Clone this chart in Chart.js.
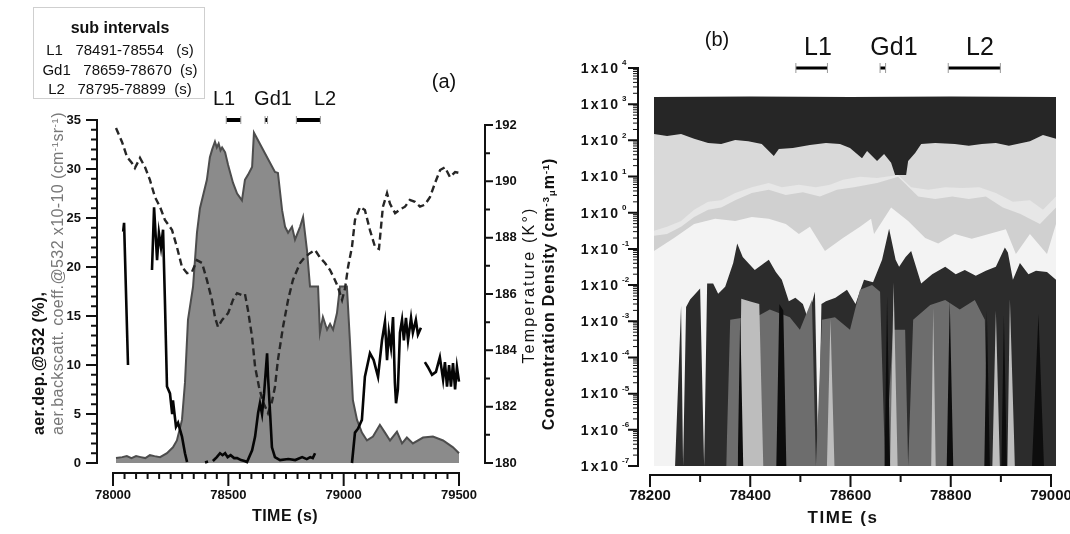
<!DOCTYPE html>
<html>
<head>
<meta charset="utf-8">
<title>Depolarization, backscatter and size distribution</title>
<script src="https://cdn.jsdelivr.net/npm/chart.js@4.4.1/dist/chart.umd.min.js"></script>
<style>
  html, body { margin: 0; padding: 0; background: #fff; }
  body { position: relative; width: 1070px; height: 534px; overflow: hidden;
         font-family: "Liberation Sans", Arial, sans-serif; color: #111; }
  canvas { position: absolute; top: 0; }
  #panelA { left: 0; }
  #panelB { left: 535px; }
  .t { position: absolute; white-space: pre; line-height: 1; }
  .c { transform: translate(-50%, -50%); }
  .vc { transform: translate(-50%, -50%) rotate(-90deg); }
  #subBox { position: absolute; left: 33px; top: 7px; width: 172px; height: 92px;
            box-sizing: border-box; border: 1px solid #cfcfcf; }
  #depTitle { position: absolute; left: 29px; top: 435px; transform-origin: 0 0; transform: rotate(-90deg);
              font-size: 16px; line-height: 19px; letter-spacing: 0.4px; white-space: nowrap; }
  sup { font-size: 0.62em; vertical-align: 0.55em; line-height: 0; }
  sub { font-size: 0.62em; vertical-align: -0.15em; line-height: 0; }
</style>
</head>
<body>
<canvas id="panelA" width="535" height="534"></canvas>
<canvas id="panelB" width="545" height="534"></canvas>

<div id="subBox"></div>
<div class="t c" style="left:120px;top:28px;font-size:16px;font-weight:bold">sub intervals</div>

<div class="t c" style="left:444px;top:81px;font-size:20px">(a)</div>
<div class="t c" style="left:224px;top:98px;font-size:20px">L1</div>
<div class="t c" style="left:273px;top:98px;font-size:20px">Gd1</div>
<div class="t c" style="left:325px;top:98px;font-size:20px">L2</div>

<div id="depTitle"><div style="font-weight:bold">aer.dep.@532 (%),</div><div style="color:#777">aer.backscatt. coeff.@532 x10-10 (cm<sup>-1</sup>sr<sup>-1</sup>)</div></div>
<div class="t vc" style="left:529px;top:285px;font-size:16px;letter-spacing:2.2px">Temperature (K°)</div>
<div class="t c" style="left:285px;top:516px;font-size:16px;font-weight:bold;letter-spacing:0.5px">TIME (s)</div>

<div class="t c" style="left:717px;top:39px;font-size:20px">(b)</div>
<div class="t c" style="left:818px;top:46px;font-size:25px">L1</div>
<div class="t c" style="left:894px;top:46px;font-size:25px">Gd1</div>
<div class="t c" style="left:980px;top:46px;font-size:25px">L2</div>
<div class="t vc" style="left:549px;top:294px;font-size:16px;font-weight:bold;letter-spacing:0.8px">Concentration Density (cm<sup>-3</sup><sub>μ</sub>m<sup>-1</sup>)</div>
<div class="t c" style="left:843px;top:517px;font-size:17px;font-weight:bold;letter-spacing:1.5px">TIME (s</div>

<script>
// sub-interval windows, seconds of day
const intervalNames = ['L1', 'Gd1', 'L2'];
const intervalStart = [78491, 78659, 78795];
const intervalEnd = [78554, 78670, 78899];

// tick labels
const timeTicksA = [78000, 78500, 79000, 79500];
const depTicks = [0, 5, 10, 15, 20, 25, 30, 35];
const tempTicks = [180, 182, 184, 186, 188, 190, 192];
const timeTicksB = [78200, 78400, 78600, 78800, 79000];
const concExponents = [-7, -6, -5, -4, -3, -2, -1, 0, 1, 2, 3, 4];

// (a) aerosol backscatter coefficient @532 (x1e-10 cm-1 sr-1)
const bscT = [78013, 78040, 78060, 78080, 78100, 78120, 78140, 78160, 78180, 78204,
  78234, 78260, 78277, 78299, 78312, 78325, 78347, 78364, 78377, 78407,
  78420, 78430, 78442, 78450, 78458, 78466, 78473, 78486, 78499, 78520,
  78538, 78559, 78572, 78585, 78603, 78611, 78702, 78715, 78733, 78746,
  78759, 78776, 78789, 78811, 78824, 78841, 78854, 78889, 78897, 78910,
  78928, 78941, 78954, 78971, 78984, 79014, 79027, 79040, 79058, 79079,
  79101, 79127, 79157, 79179, 79201, 79231, 79253, 79274, 79300, 79344,
  79387, 79431, 79474, 79500];
const bscV = [0.5, 0.6, 0.7, 0.5, 0.7, 0.6, 0.5, 0.8, 0.7, 0.6,
  1.0, 1.6, 2.3, 4.4, 8.2, 14.6, 18.0, 23.5, 26.0, 28.9,
  31.2, 32.0, 32.8, 32.2, 32.6, 31.9, 32.2, 31.7, 30.4, 28.6,
  27.5, 26.8, 28.9, 29.4, 30.2, 33.7, 29.7, 29.6, 25.8, 24.1,
  23.5, 24.1, 22.8, 24.1, 25.1, 21.7, 18.0, 18.0, 13.3, 14.9,
  13.6, 14.2, 13.6, 15.3, 18.0, 18.0, 12.5, 6.4, 4.4, 3.1,
  2.3, 2.7, 3.9, 3.1, 2.3, 3.2, 2.0, 2.6, 2.0, 2.6,
  2.7, 2.3, 1.6, 1.0];

// (a) aerosol depolarization @532 (%), null = no data
const depT = [78044, 78048, 78065, 78066,
  78169, 78178, 78191, 78199, 78208, 78217, 78225, 78234, 78247, 78256, 78260, 78273, 78282, 78299, 78312, 78321, 78322,
  78399, 78412, 78413,
  78433, 78450, 78464, 78475, 78486, 78497, 78510, 78525, 78538, 78555, 78570, 78581, 78603, 78616, 78629, 78637,
  78646, 78655, 78668, 78672, 78681, 78689, 78702, 78724, 78760, 78790, 78820, 78840, 78855, 78866, 78876, 78877,
  79036, 79049, 79062, 79079, 79092, 79114, 79130, 79149, 79166, 79179, 79188, 79196, 79205, 79214, 79222, 79227,
  79235, 79244, 79253, 79261, 79270, 79279, 79292, 79300, 79313, 79322, 79335, 79336,
  79352, 79365, 79383, 79400, 79417, 79431, 79439, 79448, 79457, 79465, 79474, 79483, 79491, 79500];
const depV = [23.6, 24.5, 10.0, null,
  19.7, 26.1, 20.7, 23.5, 22.0, 23.8, 16.6, 7.8, 7.1, 5.1, 6.4, 3.7, 4.1, 2.7, 1.0, 0.1, null,
  0.05, 0.15, null,
  0.2, 0.6, 1.0, 0.8, 1.0, 0.6, 0.8, 0.5, 0.5, 0.3, 0.2, 0.1, 1.3, 2.7, 5.1, 6.1,
  5.0, 7.1, 11.2, 8.8, 5.1, 1.6, 0.6, 0.3, 0.4, 0.3, 0.6, 0.4, 0.6, 0.5, 1.0, null,
  0.0, 3.1, 3.5, 4.4, 8.8, 11.2, 10.5, 8.8, 12.5, 14.4, 10.5, 13.3, 11.8, 14.9, 8.2, 6.1,
  7.5, 13.3, 14.6, 12.5, 14.8, 12.5, 14.8, 13.3, 14.6, 13.1, 13.8, null,
  10.3, 9.8, 9.0, 9.3, 10.8, 8.5, 10.3, 7.8, 10.0, 7.8, 10.2, 7.5, 9.8, 8.3];

// (a) temperature (K)
const tempT = [78013, 78039, 78061, 78082, 78095, 78117, 78139, 78160, 78182, 78204,
  78225, 78256, 78277, 78299, 78321, 78342, 78364, 78386, 78407, 78429,
  78442, 78455, 78473, 78499, 78520, 78538, 78559, 78572, 78585, 78603,
  78616, 78633, 78650, 78672, 78689, 78702, 78715, 78737, 78759, 78780,
  78811, 78832, 78854, 78876, 78897, 78919, 78941, 78962, 78975, 78993,
  79006, 79019, 79036, 79049, 79071, 79092, 79114, 79136, 79153, 79170,
  79188, 79201, 79223, 79244, 79266, 79287, 79309, 79331, 79352, 79374,
  79396, 79418, 79439, 79461, 79483, 79500];
const tempV = [191.89, 191.4, 190.86, 190.65, 190.47, 190.83, 190.5, 190.05, 189.44, 189.09,
  188.63, 188.27, 187.67, 186.96, 186.74, 186.78, 187.2, 187.1, 186.5, 185.79,
  185.18, 184.83, 185.08, 185.32, 185.79, 186.03, 185.96, 186.0, 185.43, 184.47,
  183.41, 182.7, 182.17, 181.77, 182.17, 182.7, 183.66, 184.83, 185.79, 186.5,
  187.1, 187.31, 187.45, 187.56, 187.3, 187.1, 186.85, 186.5, 186.25, 185.79,
  186.2, 186.96, 187.67, 188.63, 189.09, 188.98, 188.27, 187.67, 187.6, 189.09,
  189.58, 189.2, 188.87, 189.0, 189.1, 189.34, 189.27, 189.1, 189.17, 189.44,
  189.94, 190.4, 190.5, 190.15, 190.33, 190.3];

// (b) stacked size-bin concentration (cm-3 um-1), upper edge of each band, top band first
const band1T = [78208, 78400, 78600, 78800, 79010];
const band1V = [1580, 1620, 1590, 1620, 1580];

const band2T = [78208, 78234, 78262, 78288, 78316, 78342, 78370, 78396, 78423, 78447,
  78457, 78485, 78519, 78551, 78579, 78599, 78623, 78633, 78653, 78667,
  78681, 78689, 78711, 78715, 78729, 78741, 78769, 78808, 78836, 78862,
  78890, 78916, 78958, 78984, 79010];
const band2V = [151, 132, 151, 110, 85, 79, 102, 95, 79, 37,
  58, 62, 74, 85, 79, 62, 32, 51, 27, 42,
  24, 11, 11, 27, 45, 79, 85, 79, 71, 79,
  85, 71, 95, 141, 110];

const band3T = [78208, 78234, 78262, 78288, 78316, 78342, 78370, 78403, 78437, 78463,
  78497, 78531, 78559, 78585, 78619, 78653, 78695, 78721, 78755, 78789,
  78823, 78857, 78890, 78924, 78958, 78984, 79010];
const band3V = [0.32, 0.41, 0.59, 1.2, 2.0, 2.2, 3.5, 5.1, 6.6, 5.1,
  5.9, 5.1, 5.9, 8.1, 9.8, 9.1, 11, 5.1, 4.3, 5.1,
  4.8, 5.1, 3.5, 2.0, 2.2, 1.2, 2.8];

const band4T = [78208, 78234, 78262, 78288, 78316, 78342, 78370, 78403, 78437, 78471,
  78505, 78539, 78573, 78607, 78653, 78695, 78735, 78769, 78803, 78836,
  78870, 78904, 78938, 78978, 79010];
const band4V = [0.23, 0.26, 0.41, 0.76, 1.2, 1.4, 2.2, 3.5, 4.3, 3.1,
  3.7, 2.8, 4.3, 5.1, 6.6, 9.8, 2.8, 2.4, 2.8, 2.4,
  2.8, 1.4, 0.93, 0.49, 1.4];

const band5T = [78208, 78248, 78288, 78330, 78370, 78403, 78437, 78471, 78497, 78519,
  78549, 78585, 78619, 78641, 78647, 78681, 78715, 78749, 78775, 78808,
  78842, 78876, 78910, 78930, 78958, 78992, 79010];
const band5V = [0.087, 0.20, 0.49, 0.68, 0.59, 0.76, 0.68, 0.49, 0.26, 0.41,
  0.087, 0.20, 0.41, 0.68, 0.26, 1.4, 0.59, 0.20, 0.14, 0.26,
  0.19, 0.26, 0.35, 0.072, 0.26, 0.072, 0.49];

const band6T = [78250, 78262, 78266, 78272, 78280, 78300, 78308, 78314, 78326, 78336,
  78350, 78366, 78374, 78385, 78396, 78409, 78437, 78451, 78463, 78477,
  78490, 78505, 78515, 78529, 78536, 78542, 78551, 78570, 78593, 78610,
  78627, 78645, 78663, 78677, 78690, 78697, 78710, 78721, 78741, 78763,
  78789, 78810, 78828, 78850, 78870, 78890, 78908, 78914, 78924, 78938,
  78955, 78970, 78992, 79010];
const band6V = [1e-7, 2.7e-3, 1e-7, 2.5e-3, 4e-3, 8e-3, 1e-7, 0.011, 0.011, 5.8e-3,
  9e-3, 0.041, 0.14, 0.06, 0.041, 0.026, 0.05, 0.023, 0.014, 3.6e-3,
  4.5e-3, 3e-3, 1.2e-3, 6.5e-3, 1e-7, 3e-3, 3.6e-3, 4.5e-3, 7.4e-3, 3e-3,
  0.014, 0.012, 0.05, 0.36, 0.05, 0.032, 0.06, 0.087, 0.011, 0.020,
  0.032, 0.02, 0.026, 0.018, 0.025, 0.032, 0.11, 0.08, 0.014, 0.041,
  0.02, 0.025, 0.023, 0.014];

const band7T = [78352, 78360, 78419, 78439, 78479, 78499, 78523, 78531, 78543, 78569,
  78599, 78619, 78643, 78659, 78669, 78685, 78709, 78715, 78725, 78759,
  78789, 78818, 78848, 78868, 78874];
const band7V = [1e-7, 1.1e-3, 1.5e-3, 2.1e-3, 1.3e-3, 5.8e-4, 3.9e-3, 1e-7, 1.1e-3, 1.3e-3,
  5.8e-4, 7.4e-3, 0.010, 6.5e-3, 1e-7, 5.8e-4, 5.8e-4, 1e-7, 1.1e-3, 2.8e-3,
  3.9e-3, 2.1e-3, 3.9e-3, 1.1e-3, 1e-7];

const band8T = [78378, 78382, 78400, 78418, 78426, 78553, 78560, 78568, 78679, 78686,
  78694, 78761, 78765, 78770, 78883, 78890, 78898, 78913, 78918, 78928];
const band8V = [1e-7, 4.2e-3, 3.5e-3, 3e-3, 1e-7, 1e-7, 1.2e-3, 1e-7, 1e-7, 0.012,
  1e-7, 1e-7, 2.4e-3, 1e-7, 1e-7, 2e-3, 1e-7, 1e-7, 4.2e-3, 1e-7];

const band9T = [78375, 78380, 78386, 78452, 78458, 78466, 78472, 78668, 78673, 78679,
  78792, 78798, 78805, 78867, 78872, 78878, 78901, 78906, 78912, 78962,
  78975, 78986];
const band9V = [1e-7, 1.6e-3, 1e-7, 1e-7, 3e-3, 2e-3, 1e-7, 1e-7, 5e-3, 1e-7,
  1e-7, 3.9e-3, 1e-7, 1e-7, 2e-3, 1e-7, 1e-7, 1.5e-3, 1e-7, 1e-7,
  1.6e-3, 1e-7];

const bandColors = ['#262626', '#d9d9d9', '#e7e7e7', '#d0d0d0', '#f3f3f3',
  '#2c2c2c', '#6d6d6d', '#bdbdbd', '#0d0d0d'];

Chart.defaults.font.family = '"Liberation Sans", Arial, sans-serif';
Chart.defaults.color = '#111';

function pts(t, v) {
  return t.map((x, i) => ({ x: x, y: v[i] }));
}

function range(a, b, step) {
  let out = [];
  for (let v = a; v <= b + 1e-9; v += step) out.push(v);
  return out;
}

// axis lines + tick marks drawn from the chart scales (offset axes, outward ticks)
function axisMarks(axes) {
  return {
    id: 'axisMarks',
    afterDraw(chart) {
      let ctx = chart.ctx, area = chart.chartArea;
      ctx.save();
      ctx.strokeStyle = '#111';
      ctx.fillStyle = '#111';
      axes.forEach(ax => {
        let s = chart.scales[ax.id];
        let horiz = s.isHorizontal();
        let base = horiz ? area.bottom : (ax.right ? area.right : area.left);
        let dir = (horiz || ax.right) ? 1 : -1;
        let at = v => s.getPixelForValue(v);
        let mark = (v, len) => {
          let p = at(v);
          if (horiz) { ctx.moveTo(p, base); ctx.lineTo(p, base + dir * len); }
          else { ctx.moveTo(base, p); ctx.lineTo(base + dir * len, p); }
        };
        ctx.lineWidth = ax.lineWidth;
        ctx.lineCap = 'square';
        ctx.beginPath();
        if (horiz) { ctx.moveTo(at(ax.from), base); ctx.lineTo(at(ax.to), base); }
        else { ctx.moveTo(base, at(ax.from)); ctx.lineTo(base, at(ax.to)); }
        ctx.stroke();
        ctx.lineCap = 'butt';
        ctx.beginPath();
        ax.major.forEach(v => mark(v, ax.majorLen));
        ctx.stroke();
        ctx.lineWidth = ax.minorWidth || ax.lineWidth;
        ctx.beginPath();
        ax.minor.forEach(v => mark(v, ax.minorLen));
        ctx.stroke();
        if (ax.powers) {
          ax.powers.forEach(k => {
            let p = at(Math.pow(10, k));
            ctx.font = 'bold 14px "Liberation Sans", Arial, sans-serif';
            ctx.letterSpacing = '2px';
            ctx.textAlign = 'right';
            ctx.textBaseline = 'middle';
            ctx.fillText('1x10', base - 18, p + 1);
            ctx.letterSpacing = '0px';
            ctx.font = 'bold 8px "Liberation Sans", Arial, sans-serif';
            ctx.textAlign = 'left';
            ctx.fillText(String(k), base - 16, p - 5);
          });
        }
      });
      ctx.restore();
    }
  };
}

function hiddenGrid(len) {
  return { display: true, color: 'rgba(0,0,0,0)', drawOnChartArea: false, drawTicks: true, tickLength: len };
}

function intervalSets(level, width, capR) {
  return intervalNames.map((name, i) => ({
    label: name,
    data: [{ x: intervalStart[i], y: level }, { x: intervalEnd[i], y: level }],
    borderColor: '#000',
    borderWidth: width,
    pointStyle: 'line',
    rotation: 90,
    pointRadius: capR,
    pointBorderColor: '#9a9a9a',
    pointBorderWidth: 1,
    clip: false,
    order: 0
  }));
}

// sub interval table
intervalNames.forEach((name, i) => {
  let d = document.createElement('div');
  d.setAttribute('class', 't c');
  d.style.left = '120px';
  d.style.top = (49 + i * 19.5) + 'px';
  d.style.fontSize = '15px';
  d.textContent = name + '   ' + intervalStart[i] + '-' + intervalEnd[i] + (i ? '  ' : '   ') + '(s)';
  document.body.appendChild(d);
});

// ---- panel (a) ----
var chartA = new Chart(document.getElementById('panelA'), {
  type: 'line',
  data: {
    datasets: intervalSets(35, 4, 4).concat([
      {
        label: 'aer.dep.@532',
        data: pts(depT, depV),
        borderColor: '#050505',
        borderWidth: 2.6,
        pointRadius: 0,
        spanGaps: false,
        yAxisID: 'y',
        order: 1
      },
      {
        label: 'Temperature',
        data: pts(tempT, tempV),
        borderColor: '#262626',
        borderWidth: 2.4,
        borderDash: [7, 4],
        pointRadius: 0,
        yAxisID: 'yT',
        order: 2
      },
      {
        label: 'aer.backscatt. coeff.@532',
        data: pts(bscT, bscV),
        borderColor: '#4d4d4d',
        backgroundColor: '#8b8b8b',
        borderWidth: 2,
        pointRadius: 0,
        fill: { value: 0 },
        yAxisID: 'y',
        order: 3
      }
    ])
  },
  options: {
    responsive: false,
    animation: false,
    events: [],
    layout: { padding: { left: 0, right: 0, top: 120, bottom: 0 } },
    plugins: { legend: { display: false }, tooltip: { enabled: false } },
    scales: {
      x: {
        type: 'linear', min: 77930.6, max: 79612.7, bounds: 'data',
        afterFit: s => { s.height = 61; },
        afterBuildTicks: s => { s.ticks = timeTicksA.map(v => ({ value: v })); },
        grid: hiddenGrid(12), border: { display: false },
        ticks: { autoSkip: false, maxRotation: 0, minRotation: 0, padding: 3,
                 font: { size: 13, weight: 'bold' }, callback: v => String(v) }
      },
      y: {
        type: 'linear', position: 'left', min: -1.0204, max: 35, bounds: 'data',
        afterFit: s => { s.width = 97; },
        afterBuildTicks: s => { s.ticks = depTicks.map(v => ({ value: v })); },
        grid: hiddenGrid(12), border: { display: false },
        ticks: { autoSkip: false, padding: 4, font: { size: 13, weight: 'bold' }, callback: v => String(v) }
      },
      yT: {
        type: 'linear', position: 'right', min: 179.645, max: 192.1775, bounds: 'data',
        afterFit: s => { s.width = 50; },
        afterBuildTicks: s => { s.ticks = tempTicks.map(v => ({ value: v })); },
        grid: hiddenGrid(8), border: { display: false },
        ticks: { autoSkip: false, padding: 2, font: { size: 13, weight: 'bold' }, callback: v => String(v) }
      }
    }
  },
  plugins: [axisMarks([
    { id: 'x', from: 78000, to: 79500, major: range(78000, 79500, 500),
      minor: range(78050, 79450, 50).filter(v => v % 500), majorLen: 13, minorLen: 6, lineWidth: 2 },
    { id: 'y', from: 0, to: 35, major: range(0, 35, 5),
      minor: range(1, 34, 1).filter(v => v % 5), majorLen: 11, minorLen: 6, lineWidth: 2 },
    { id: 'yT', right: true, from: 180, to: 192, major: range(180, 192, 2),
      minor: range(181, 191, 2), majorLen: 8, minorLen: 5, lineWidth: 2 }
  ])]
});

// ---- panel (b) ----
var bandT = [band1T, band2T, band3T, band4T, band5T, band6T, band7T, band8T, band9T];
var bandV = [band1V, band2V, band3V, band4V, band5V, band6V, band7V, band8V, band9V];
var bandSets = bandT.map((t, i) => ({
  label: 'band ' + (i + 1),
  data: pts(t, bandV[i]),
  borderColor: 'rgba(0,0,0,0)',
  borderWidth: 0,
  backgroundColor: bandColors[i],
  pointRadius: 0,
  fill: { value: 1e-7 },
  order: 20 - i
}));

var logMinor = [];
concExponents.slice(0, -1).forEach(k => {
  for (let m = 2; m <= 9; m++) logMinor.push(m * Math.pow(10, k));
});

var chartB = new Chart(document.getElementById('panelB'), {
  type: 'line',
  data: { datasets: intervalSets(1e4, 3, 5).concat(bandSets) },
  options: {
    responsive: false,
    animation: false,
    events: [],
    layout: { padding: { left: 0, right: 20, top: 68, bottom: 0 } },
    plugins: { legend: { display: false }, tooltip: { enabled: false } },
    scales: {
      x: {
        type: 'linear', min: 78176.06, max: 79017.96, bounds: 'data',
        afterFit: s => { s.height = 59; },
        afterBuildTicks: s => { s.ticks = timeTicksB.map(v => ({ value: v })); },
        grid: hiddenGrid(10), border: { display: false },
        ticks: { autoSkip: false, maxRotation: 0, minRotation: 0, padding: 2,
                 font: { size: 15, weight: 'bold' }, callback: v => String(v) }
      },
      y: {
        type: 'logarithmic', min: 5.64e-8, max: 1e4, bounds: 'data',
        afterFit: s => { s.width = 103; },
        grid: { display: false }, border: { display: false },
        ticks: { display: false }
      }
    }
  },
  plugins: [axisMarks([
    { id: 'x', from: 78200, to: 79000, major: timeTicksB,
      minor: [78300, 78500, 78700, 78900], majorLen: 12, minorLen: 7, lineWidth: 2 },
    { id: 'y', from: 1e-7, to: 1e4, major: concExponents.map(k => Math.pow(10, k)),
      minor: logMinor, majorLen: 10, minorLen: 5, lineWidth: 2, minorWidth: 1,
      powers: concExponents }
  ])]
});
</script>
</body>
</html>
